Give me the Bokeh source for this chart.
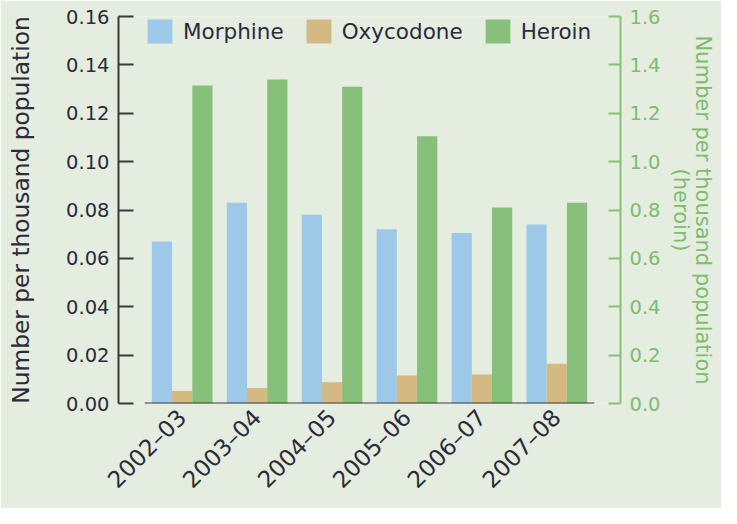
from bokeh.plotting import figure
from bokeh.models import (Range1d, LinearAxis, FixedTicker, NumeralTickFormatter,
                          Legend, LegendItem, ColumnDataSource)
from bokeh.transform import dodge
from bokeh.embed import file_html
from bokeh.resources import INLINE
import math

years = ["2002–03", "2003–04", "2004–05", "2005–06", "2006–07", "2007–08"]
morphine = [0.067, 0.083, 0.078, 0.072, 0.0705, 0.074]
oxycodone = [0.0052, 0.0064, 0.0088, 0.0116, 0.012, 0.0164]
heroin = [1.315, 1.34, 1.31, 1.105, 0.81, 0.83]
left_ticks = [0.0, 0.02, 0.04, 0.06, 0.08, 0.10, 0.12, 0.14, 0.16]
right_ticks = [0.0, 0.2, 0.4, 0.6, 0.8, 1.0, 1.2, 1.4, 1.6]

BG = "#e4ede0"
C_MOR = "#9dc8e8"
C_OXY = "#d4b982"
C_HER = "#87c07a"
TXT = "#2b2b3a"
AX = "#3a3a3a"
GREEN_TXT = "#7dbd6d"
FONT = "DejaVu Sans"

idx = list(range(len(years)))
src = ColumnDataSource(dict(i=idx, morphine=morphine, oxycodone=oxycodone, heroin=heroin))

p = figure(frame_width=502, frame_height=387, output_backend="svg", toolbar_location=None,
           x_range=Range1d(-0.85, 5.85), y_range=Range1d(0, 0.16),
           min_border_left=118, min_border_right=101, min_border_top=16,
           min_border_bottom=105)
p.extra_y_ranges = {"heroin": Range1d(0, 1.6)}

p.background_fill_color = BG
p.border_fill_color = BG
p.outline_line_color = None
p.xgrid.visible = False
p.ygrid.visible = False

bw = 0.27
r_m = p.vbar(x=dodge("i", -bw, range=p.x_range), top="morphine", width=bw,
             source=src, fill_color=C_MOR, line_color=None)
r_o = p.vbar(x=dodge("i", 0.0, range=p.x_range), top="oxycodone", width=bw,
             source=src, fill_color=C_OXY, line_color=None)
r_h = p.vbar(x=dodge("i", bw, range=p.x_range), top="heroin", width=bw,
             source=src, fill_color=C_HER, line_color=None, y_range_name="heroin")

# baseline under the categories
p.line(x=[-0.5, len(years) - 0.5], y=[0, 0], line_color=AX, line_width=2)

# x axis
xa = p.xaxis[0]
xa.ticker = FixedTicker(ticks=idx)
xa.major_label_overrides = {i: y for i, y in enumerate(years)}
xa.major_label_orientation = math.pi / 4
xa.axis_line_color = None
xa.major_tick_line_color = None
xa.minor_tick_line_color = None
xa.major_tick_in = 0
xa.major_tick_out = 0
xa.minor_tick_in = 0
xa.minor_tick_out = 0
xa.major_label_text_font = FONT
xa.major_label_text_font_size = "23px"
xa.major_label_text_color = TXT
xa.major_label_standoff = 10

# left axis
ya = p.yaxis[0]
ya.ticker = FixedTicker(ticks=left_ticks)
ya.formatter = NumeralTickFormatter(format="0.00")
ya.axis_line_color = AX
ya.axis_line_width = 2
ya.major_tick_line_color = AX
ya.major_tick_line_width = 2
ya.major_tick_in = 15
ya.major_tick_out = 0
ya.minor_tick_in = 0
ya.minor_tick_out = 0
ya.minor_tick_line_color = None
ya.major_label_text_font = FONT
ya.major_label_text_font_size = "19.5px"
ya.major_label_text_color = TXT
ya.major_label_standoff = 9
ya.axis_label = "Number per thousand population"
ya.axis_label_text_font = FONT
ya.axis_label_text_font_size = "23.3px"
ya.axis_label_text_font_style = "normal"
ya.axis_label_text_color = TXT
ya.axis_label_standoff = 29

# right axis
ra = LinearAxis(y_range_name="heroin", ticker=FixedTicker(ticks=right_ticks),
                formatter=NumeralTickFormatter(format="0.0"))
ra.axis_line_color = C_HER
ra.axis_line_width = 2
ra.major_tick_line_color = C_HER
ra.major_tick_line_width = 2
ra.major_tick_in = 12
ra.major_tick_out = 0
ra.minor_tick_in = 0
ra.minor_tick_out = 0
ra.minor_tick_line_color = None
ra.major_label_text_font = FONT
ra.major_label_text_font_size = "19.5px"
ra.major_label_text_color = GREEN_TXT
ra.major_label_standoff = 9
ra.axis_label = "Number per thousand population\n(heroin)"
ra.axis_label_text_font = FONT
ra.axis_label_text_font_size = "21px"
ra.axis_label_text_line_height = 0.95
ra.axis_label_text_font_style = "normal"
ra.axis_label_text_color = GREEN_TXT
ra.axis_label_standoff = 5
p.add_layout(ra, "right")

legend = Legend(items=[LegendItem(label="Morphine", renderers=[r_m]),
                       LegendItem(label="Oxycodone", renderers=[r_o]),
                       LegendItem(label="Heroin", renderers=[r_h])],
                orientation="horizontal", location=(26, 357),
                glyph_width=31, glyph_height=30, label_standoff=8, spacing=19,
                padding=0, margin=0, background_fill_alpha=0, border_line_color=None,
                label_text_font=FONT, label_text_font_size="21.5px",
                label_text_color=TXT, label_height=30)
p.add_layout(legend, "center")

open("out.html", "w").write(file_html(p, INLINE))
